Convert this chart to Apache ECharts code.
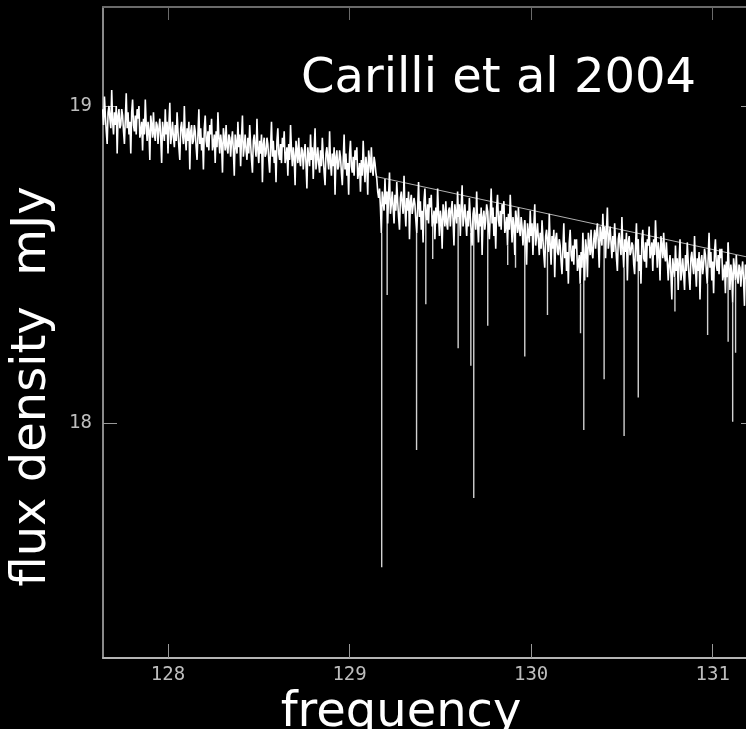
<!DOCTYPE html>
<html>
<head>
<meta charset="utf-8">
<script src="https://cdn.jsdelivr.net/npm/echarts@6.0.0/dist/echarts.min.js"></script>
<style>
  html, body { margin: 0; padding: 0; background: #000; }
  #chart { width: 746px; height: 729px; }
</style>
</head>
<body>
<div id="chart"></div>
<script>
// Spectrum channels: first channel frequency (GHz) and channel spacing
const channelStart = 127.64;
const channelWidth = 0.005;

// Flux density per channel (mJy), 20 channels per row
const flux = [
  18.99,18.94,19.03,18.97,18.92,18.88,18.98,19.00,18.96,18.93,19.05,18.95,18.91,18.98,18.94,19.00,18.85,18.97,18.99,18.93,
  18.94,18.99,18.97,18.92,18.88,18.96,19.04,18.93,18.98,18.91,18.95,18.85,18.98,19.02,18.94,18.92,18.97,18.91,18.99,18.96,
  19.00,18.90,18.92,18.95,18.86,18.96,18.91,19.02,18.94,18.89,18.95,18.92,18.83,18.97,18.94,18.90,18.98,18.91,18.89,18.95,
  18.94,18.88,18.93,18.96,18.90,18.82,18.95,18.92,18.89,18.99,18.91,18.95,18.85,18.94,19.01,18.88,18.91,18.95,18.90,18.87,
  18.94,18.89,18.98,18.92,18.87,18.83,18.93,18.95,18.91,18.88,19.00,18.90,18.86,18.93,18.89,18.95,18.80,18.92,18.94,18.88,
  18.89,18.94,18.92,18.87,18.83,18.91,18.99,18.88,18.93,18.86,18.90,18.80,18.93,18.97,18.89,18.87,18.92,18.86,18.94,18.91,
  18.96,18.86,18.88,18.91,18.82,18.92,18.87,18.98,18.90,18.85,18.91,18.88,18.79,18.93,18.90,18.86,18.94,18.87,18.85,18.91,
  18.90,18.84,18.89,18.92,18.86,18.78,18.91,18.88,18.85,18.95,18.87,18.91,18.81,18.90,18.97,18.84,18.87,18.91,18.86,18.83,
  18.90,18.85,18.94,18.88,18.83,18.79,18.89,18.91,18.87,18.84,18.96,18.86,18.82,18.89,18.85,18.91,18.76,18.88,18.90,18.84,
  18.85,18.90,18.88,18.83,18.79,18.87,18.95,18.84,18.89,18.82,18.86,18.76,18.89,18.93,18.85,18.83,18.88,18.82,18.90,18.87,
  18.92,18.82,18.84,18.87,18.78,18.88,18.83,18.94,18.86,18.81,18.87,18.84,18.75,18.89,18.86,18.82,18.90,18.83,18.81,18.87,
  18.86,18.80,18.85,18.88,18.82,18.74,18.87,18.84,18.81,18.91,18.83,18.87,18.77,18.86,18.93,18.80,18.83,18.87,18.82,18.79,
  18.86,18.81,18.90,18.84,18.79,18.75,18.85,18.87,18.83,18.80,18.92,18.82,18.78,18.85,18.81,18.87,18.72,18.84,18.86,18.80,
  18.81,18.86,18.84,18.79,18.75,18.83,18.91,18.80,18.85,18.78,18.82,18.72,18.85,18.89,18.81,18.79,18.84,18.78,18.86,18.83,
  18.87,18.77,18.79,18.82,18.73,18.83,18.78,18.89,18.81,18.76,18.84,18.81,18.72,18.86,18.83,18.79,18.87,18.80,18.78,18.84,
  18.82,18.79,
  18.77,18.73,18.71,18.74,18.68,18.60,18.73,18.70,18.67,18.77,18.69,18.73,18.63,18.72,18.79,18.66,18.69,18.73,18.68,18.63,
  18.72,18.67,18.76,18.70,18.65,18.61,18.71,18.73,18.69,18.66,18.78,18.68,18.62,18.71,18.67,18.73,18.58,18.70,18.72,18.66,
  18.66,18.71,18.69,18.64,18.60,18.68,18.76,18.65,18.70,18.61,18.67,18.57,18.70,18.74,18.66,18.64,18.69,18.63,18.71,18.68,
  18.72,18.62,18.64,18.67,18.58,18.68,18.63,18.74,18.66,18.59,18.67,18.64,18.55,18.69,18.66,18.62,18.70,18.63,18.61,18.67,
  18.68,18.62,18.67,18.70,18.64,18.56,18.69,18.66,18.63,18.73,18.65,18.69,18.59,18.68,18.75,18.62,18.65,18.69,18.64,18.59,
  18.67,18.62,18.71,18.65,18.60,18.56,18.66,18.68,18.64,18.61,18.73,18.63,18.57,18.66,18.62,18.68,18.53,18.65,18.67,18.61,
  18.64,18.69,18.67,18.62,18.58,18.66,18.74,18.63,18.68,18.59,18.65,18.55,18.68,18.72,18.64,18.62,18.67,18.61,18.69,18.66,
  18.70,18.60,18.62,18.65,18.56,18.66,18.61,18.72,18.64,18.57,18.65,18.62,18.53,18.67,18.64,18.60,18.68,18.61,18.59,18.65,
  18.62,18.56,18.61,18.64,18.58,18.50,18.63,18.60,18.57,18.67,18.59,18.63,18.53,18.62,18.69,18.56,18.59,18.63,18.58,18.53,
  18.60,18.55,18.64,18.58,18.53,18.49,18.59,18.61,18.57,18.54,18.66,18.56,18.50,18.59,18.55,18.61,18.46,18.58,18.60,18.54,
  18.53,18.58,18.56,18.51,18.47,18.55,18.63,18.52,18.57,18.48,18.54,18.44,18.57,18.61,18.53,18.51,18.56,18.50,18.58,18.55,
  18.58,18.48,18.50,18.53,18.44,18.54,18.49,18.60,18.52,18.45,18.58,18.55,18.46,18.60,18.57,18.53,18.61,18.54,18.52,18.58,
  18.61,18.55,18.60,18.63,18.57,18.49,18.62,18.59,18.56,18.66,18.58,18.62,18.52,18.61,18.68,18.55,18.58,18.62,18.57,18.52,
  18.59,18.54,18.63,18.57,18.52,18.48,18.58,18.60,18.56,18.53,18.65,18.55,18.49,18.58,18.54,18.60,18.45,18.57,18.59,18.53,
  18.54,18.57,18.56,18.50,18.47,18.56,18.63,18.51,18.58,18.48,18.53,18.44,18.58,18.61,18.52,18.51,18.57,18.49,18.58,18.56,
  18.62,18.52,18.54,18.57,18.48,18.58,18.53,18.64,18.56,18.49,18.57,18.54,18.45,18.59,18.56,18.52,18.60,18.53,18.51,18.57,
  18.51,18.45,18.50,18.53,18.47,18.39,18.52,18.49,18.46,18.56,18.48,18.52,18.42,18.51,18.58,18.45,18.48,18.52,18.47,18.42,
  18.53,18.48,18.57,18.51,18.46,18.42,18.52,18.54,18.50,18.47,18.59,18.49,18.43,18.52,18.48,18.54,18.39,18.51,18.53,18.47,
  18.50,18.55,18.53,18.48,18.44,18.52,18.60,18.49,18.54,18.45,18.51,18.41,18.54,18.58,18.50,18.48,18.53,18.47,18.55,18.52,
  18.55,18.45,18.47,18.50,18.41,18.51,18.46,18.57,18.49,18.42,18.50,18.47,18.38,18.52,18.49,18.45,18.53,18.46,18.44,18.50,
  18.49,18.43,18.48,18.51,18.45,18.37,18.50,18.47,18.44,18.54,18.46,18.50,18.40,18.49,18.56,18.43,18.46,18.50,18.45,18.40
];

// Narrow absorption lines: frequency (GHz) and minimum flux (mJy)
const lineFreq = [129.177, 129.207, 129.369, 129.420, 129.458, 129.598, 129.668, 129.684,
                  129.761, 129.871, 129.914, 129.965, 130.090, 130.272, 130.290, 130.402,
                  130.512, 130.590, 130.792, 130.972, 131.085, 131.110, 131.126];
const lineFlux = [17.546, 18.404, 17.916, 18.375, 18.518, 18.236, 18.181, 17.764,
                  18.307, 18.499, 18.490, 18.210, 18.341, 18.284, 17.979, 18.139,
                  17.960, 18.081, 18.352, 18.278, 18.257, 18.005, 18.222];

// Continuum fit across the line region
const fitFreq = [129.15, 131.23];
const fitFlux = [18.777, 18.519];

// Axis ticks and ranges
const xTicks = [128, 129, 130, 131];
const yTicks = [18, 19];
const xRange = [127.642, 131.233];
const yRange = [17.26, 19.312];

const spectrum = flux.map((v, i) => [+(channelStart + i * channelWidth).toFixed(3), v]);

function fluxAt(f) {
  const i = Math.round((f - channelStart) / channelWidth);
  return flux[Math.max(0, Math.min(flux.length - 1, i))];
}

const dips = [];
lineFreq.forEach((f, k) => {
  dips.push([f, fluxAt(f)], [f, lineFlux[k]], [f, '-']);
});

const fit = fitFreq.map((f, k) => [f, fitFlux[k]]);

const bigFont = 'DejaVu Sans';
const tickFont = 'DejaVu Sans Mono';

const chart = echarts.init(document.getElementById('chart'), null, { renderer: 'canvas' });
chart.setOption({
  backgroundColor: '#000',
  animation: false,
  title: {
    text: 'Carilli et al 2004',
    left: 296,
    top: 51,
    textStyle: { color: '#fff', fontSize: 48, fontWeight: 'normal', fontFamily: bigFont }
  },
  grid: { left: 103, top: 7, width: 652, height: 651, show: false, containLabel: false, outerBoundsMode: 'none' },
  xAxis: [{
    type: 'value', position: 'bottom', min: xRange[0], max: xRange[1],
    name: 'frequency', nameLocation: 'middle', nameGap: 18,
    nameTextStyle: { color: '#fff', fontSize: 48, fontFamily: bigFont, padding: [0, 56, 0, 0] },
    axisLine: { show: true, lineStyle: { color: '#b4b4b4', width: 2 } },
    axisTick: { show: true, inside: true, length: 14, customValues: xTicks, lineStyle: { color: '#999', width: 1 } },
    axisLabel: { color: '#bdbdbd', fontSize: 19, fontFamily: tickFont, margin: 8, customValues: xTicks },
    splitLine: { show: false }
  }, {
    type: 'value', position: 'top', min: xRange[0], max: xRange[1],
    axisLine: { show: true, lineStyle: { color: '#6a6a6a', width: 2 } },
    axisTick: { show: true, inside: true, length: 13, customValues: xTicks, lineStyle: { color: '#6a6a6a', width: 1 } },
    axisLabel: { show: false },
    splitLine: { show: false }
  }],
  yAxis: [{
    type: 'value', position: 'left', min: yRange[0], max: yRange[1],
    name: 'flux density  mJy', nameLocation: 'middle', nameGap: 46, nameRotate: 90,
    nameTextStyle: { color: '#fff', fontSize: 48, fontFamily: bigFont, padding: [0, 108, 0, 0] },
    axisLine: { show: true, lineStyle: { color: '#8a8a8a', width: 2 } },
    axisTick: { show: true, inside: true, length: 14, customValues: yTicks, lineStyle: { color: '#999', width: 1 } },
    axisLabel: { color: '#bdbdbd', fontSize: 19, fontFamily: tickFont, margin: 11, customValues: yTicks },
    splitLine: { show: false }
  }, {
    type: 'value', position: 'right', min: yRange[0], max: yRange[1],
    axisLine: { show: true, lineStyle: { color: '#8a8a8a', width: 2 } },
    axisTick: { show: true, inside: true, length: 14, customValues: yTicks, lineStyle: { color: '#999', width: 1 } },
    axisLabel: { show: false },
    splitLine: { show: false }
  }],
  series: [{
    name: 'continuum fit', type: 'line', data: fit, showSymbol: false,
    lineStyle: { color: '#b0b0b0', width: 1 }, z: 3
  }, {
    name: 'absorption', type: 'line', data: dips, showSymbol: false, connectNulls: false,
    lineStyle: { color: '#d2d2d2', width: 1.4 }, z: 2
  }, {
    name: 'spectrum', type: 'line', data: spectrum, showSymbol: false,
    lineStyle: { color: '#ffffff', width: 1.6 }, z: 4
  }]
});
</script>
</body>
</html>
